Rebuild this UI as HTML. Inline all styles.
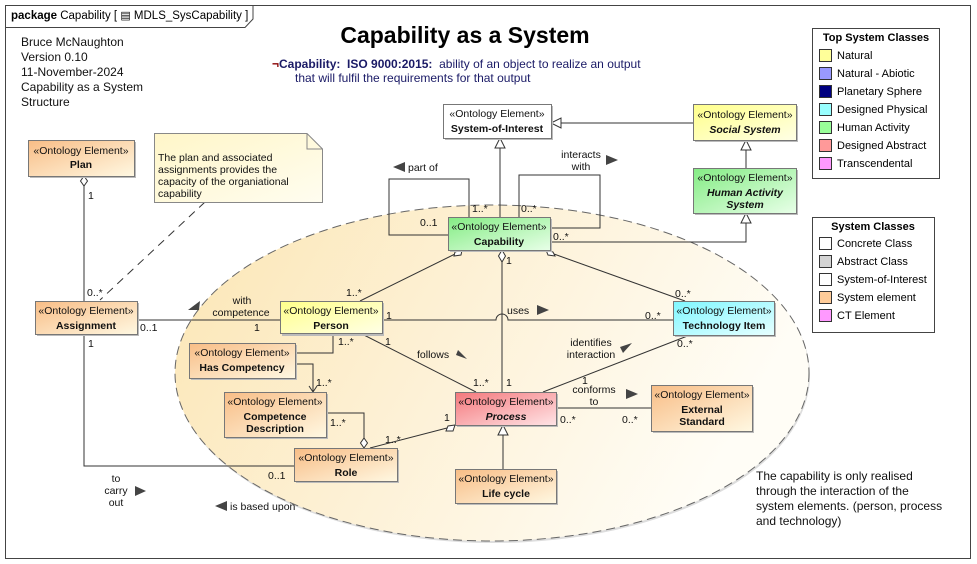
<!DOCTYPE html>
<html><head><meta charset="utf-8"><style>
html,body{margin:0;padding:0;background:#fff}
svg{display:block;font-family:"Liberation Sans",Arial,sans-serif}
</style></head><body>
<svg width="977" height="564" viewBox="0 0 977 564" xmlns="http://www.w3.org/2000/svg">
<defs>
<linearGradient id="ell" x1="0" y1="0" x2="1" y2="0.3"><stop offset="0" stop-color="#fce6b4"/><stop offset="0.5" stop-color="#fdf1d6"/><stop offset="1" stop-color="#fffdf6"/></linearGradient>
<linearGradient id="or" x1="0" y1="0" x2="1" y2="1"><stop offset="0" stop-color="#f8bd86"/><stop offset="1" stop-color="#fff8e2"/></linearGradient>
<linearGradient id="ye" x1="0" y1="0" x2="1" y2="1"><stop offset="0" stop-color="#ffff8a"/><stop offset="1" stop-color="#ffffe6"/></linearGradient>
<linearGradient id="gr" x1="0" y1="0" x2="1" y2="1"><stop offset="0" stop-color="#84ec84"/><stop offset="1" stop-color="#e8ffe8"/></linearGradient>
<linearGradient id="cy" x1="0" y1="0" x2="1" y2="1"><stop offset="0" stop-color="#7ff7ff"/><stop offset="1" stop-color="#e8ffff"/></linearGradient>
<linearGradient id="rd" x1="0" y1="0" x2="1" y2="1"><stop offset="0" stop-color="#f4787c"/><stop offset="1" stop-color="#ffe4e6"/></linearGradient>
<linearGradient id="nt" x1="0" y1="0" x2="1" y2="1"><stop offset="0" stop-color="#fff6c8"/><stop offset="1" stop-color="#fffdf0"/></linearGradient>
</defs>
<rect x="5.5" y="5.5" width="965" height="553" fill="#fff" stroke="#444"/>
<path d="M5.5 27.5 H245 L253 19 V5.5" fill="none" stroke="#444"/>
<text x="11" y="19" font-size="11.5"><tspan font-weight="bold">package</tspan>  Capability [ <tspan font-size="11">▤</tspan> MDLS_SysCapability ]</text>

<g font-size="12" fill="#111">
<text x="21" y="46">Bruce McNaughton</text>
<text x="21" y="61">Version 0.10</text>
<text x="21" y="76">11-November-2024</text>
<text x="21" y="91">Capability as a System</text>
<text x="21" y="106">Structure</text>
</g>
<text x="465" y="43" font-size="23" font-weight="bold" text-anchor="middle">Capability as a System</text>
<text x="272" y="68" font-size="12" fill="#1a1a66"><tspan fill="#800" font-weight="bold">¬</tspan><tspan font-weight="bold">Capability:&#160; ISO 9000:2015:</tspan>&#160; ability of an object to realize an output</text>
<text x="295" y="82" font-size="12" fill="#1a1a66">that will fulfil the requirements for that output</text>

<ellipse cx="493" cy="375" rx="317" ry="168" fill="#bbb" opacity="0.5"/>
<ellipse cx="492" cy="373" rx="317" ry="168" fill="url(#ell)" stroke="#666" stroke-dasharray="9,5"/>

<g font-size="11">
<rect x="812.5" y="28.5" width="127" height="150" fill="#fff" stroke="#444"/>
<text x="876" y="41" font-weight="bold" text-anchor="middle">Top System Classes</text>
<rect x="819.5" y="49.5" width="12" height="12" fill="#ffff99" stroke="#333"/><text x="837" y="59">Natural</text>
<rect x="819.5" y="67.5" width="12" height="12" fill="#9999ff" stroke="#333"/><text x="837" y="77">Natural - Abiotic</text>
<rect x="819.5" y="85.5" width="12" height="12" fill="#000080" stroke="#333"/><text x="837" y="95">Planetary Sphere</text>
<rect x="819.5" y="103.5" width="12" height="12" fill="#99ffff" stroke="#333"/><text x="837" y="113">Designed Physical</text>
<rect x="819.5" y="121.5" width="12" height="12" fill="#99ff99" stroke="#333"/><text x="837" y="131">Human Activity</text>
<rect x="819.5" y="139.5" width="12" height="12" fill="#ff9999" stroke="#333"/><text x="837" y="149">Designed Abstract</text>
<rect x="819.5" y="157.5" width="12" height="12" fill="#ff99ff" stroke="#333"/><text x="837" y="167">Transcendental</text>
<rect x="812.5" y="217.5" width="122" height="115" fill="#fff" stroke="#444"/>
<text x="873" y="230" font-weight="bold" text-anchor="middle">System Classes</text>
<rect x="819.5" y="237.5" width="12" height="12" fill="#fff" stroke="#333"/><text x="837" y="247">Concrete Class</text>
<rect x="819.5" y="255.5" width="12" height="12" fill="#d4d4d4" stroke="#333"/><text x="837" y="265">Abstract Class</text>
<rect x="819.5" y="273.5" width="12" height="12" fill="#fff" stroke="#333"/><text x="837" y="283">System-of-Interest</text>
<rect x="819.5" y="291.5" width="12" height="12" fill="#ffcc99" stroke="#333"/><text x="837" y="301">System element</text>
<rect x="819.5" y="309.5" width="12" height="12" fill="#ff99ff" stroke="#333"/><text x="837" y="319">CT Element</text>
</g>

<g stroke="#333" fill="none" stroke-width="1">
<line x1="84" y1="186" x2="84" y2="301"/>
<line x1="205" y1="202" x2="100" y2="300" stroke-dasharray="8,6"/>
<line x1="137" y1="320" x2="280" y2="320"/>
<path d="M84 334 V466 H294"/>
<line x1="360" y1="301" x2="455" y2="254"/>
<path d="M333 333 V353 H295"/>
<path d="M289 349 L295 353 L289 357"/>
<path d="M295 364 H313 V392"/>
<path d="M309 386 L313 392 L317 386"/>
<path d="M326 413 H364 V438"/>
<line x1="370" y1="448" x2="447" y2="428"/>
<line x1="360" y1="333" x2="476" y2="392"/>
<path d="M382 320 H496 A6 6 0 0 1 508 320 H673"/>
<line x1="502" y1="262" x2="502" y2="392"/>
<line x1="554" y1="254" x2="685" y2="301"/>
<line x1="690" y1="335" x2="543" y2="392"/>
<line x1="556" y1="408" x2="651" y2="408"/>
<line x1="503" y1="469" x2="503" y2="435"/>
<line x1="500" y1="217" x2="500" y2="148"/>
<line x1="693" y1="123" x2="561" y2="123"/>
<line x1="746" y1="168" x2="746" y2="150"/>
<path d="M550 242 H746 V223"/>
<path d="M448 235 H389 V179 H469 V217"/>
<path d="M519 217 V175 H600 V228 H550"/>
</g>
<g stroke="#333" fill="#fff">
<path d="M84 176 L87.5 181 L84 186 L80.5 181 Z"/>
<path d="M364 448 L367.5 443 L364 438 L360.5 443 Z"/>
<path d="M455 425 L453 431 L446 431 L448 426 Z"/>
<path d="M462 250 L461 255 L454 256 L455 252 Z"/>
<path d="M502 250 L505.5 256 L502 262 L498.5 256 Z"/>
<path d="M546 250 L553 252 L555 256 L548 255 Z"/>
<path d="M503 425 L508 435 L498 435 Z"/>
<path d="M500 138 L505 148 L495 148 Z"/>
<path d="M551 123 L561 118 L561 128 Z"/>
<path d="M746 140 L751 150 L741 150 Z"/>
<path d="M746 213 L751 223 L741 223 Z"/>
</g>
<g fill="#444">
<path d="M188 310 L200 301 L199 310 Z"/>
<path d="M135 486 L146 491 L135 496 Z"/>
<path d="M227 501 L215 506 L227 511 Z"/>
<path d="M405 162 L393 167 L405 172 Z"/>
<path d="M606 155 L618 160 L606 165 Z"/>
<path d="M537 305 L549 310 L537 315 Z"/>
<path d="M456 355 L467 359 L458 350 Z"/>
<path d="M620 347 L632 343 L623 353 Z"/>
<path d="M626 389 L638 394 L626 399 Z"/>
</g>

<g font-size="10.5" fill="#111">
<text x="88" y="199">1</text>
<text x="87" y="296">0..*</text>
<text x="140" y="331">0..1</text>
<text x="254" y="331">1</text>
<text x="242" y="304" text-anchor="middle">with</text>
<text x="241" y="316" text-anchor="middle">competence</text>
<text x="88" y="347">1</text>
<text x="268" y="479">0..1</text>
<text x="116" y="482" text-anchor="middle">to</text>
<text x="116" y="494" text-anchor="middle">carry</text>
<text x="116" y="506" text-anchor="middle">out</text>
<text x="230" y="510">is based upon</text>
<text x="346" y="296">1..*</text>
<text x="338" y="345">1..*</text>
<text x="316" y="386">1..*</text>
<text x="330" y="426">1..*</text>
<text x="385" y="443">1..*</text>
<text x="444" y="421">1</text>
<text x="386" y="319">1</text>
<text x="385" y="345">1</text>
<text x="417" y="358">follows</text>
<text x="507" y="314">uses</text>
<text x="645" y="319">0..*</text>
<text x="506" y="264">1</text>
<text x="506" y="386">1</text>
<text x="473" y="386">1..*</text>
<text x="675" y="297">0..*</text>
<text x="677" y="347">0..*</text>
<text x="591" y="346" text-anchor="middle">identifies</text>
<text x="591" y="358" text-anchor="middle">interaction</text>
<text x="582" y="384">1</text>
<text x="594" y="393" text-anchor="middle">conforms</text>
<text x="594" y="405" text-anchor="middle">to</text>
<text x="560" y="423">0..*</text>
<text x="622" y="423">0..*</text>
<text x="553" y="240">0..*</text>
<text x="420" y="226">0..1</text>
<text x="472" y="212">1..*</text>
<text x="521" y="212">0..*</text>
<text x="408" y="171">part of</text>
<text x="581" y="158" text-anchor="middle">interacts</text>
<text x="581" y="170" text-anchor="middle">with</text>
</g>
<g font-size="12" fill="#111">
<text x="756" y="480">The capability is only realised</text>
<text x="756" y="495">through the interaction of the</text>
<text x="756" y="510">system elements. (person, process</text>
<text x="756" y="525">and technology)</text>
</g>

<path d="M154.5 133.5 H307 L322.5 149 V202.5 H154.5 Z" fill="url(#nt)" stroke="#888"/>
<path d="M307 133.5 V149 H322.5" fill="none" stroke="#888"/>
<g font-size="10.5" fill="#111">
<text x="158" y="161">The plan and associated</text>
<text x="158" y="173">assignments provides the</text>
<text x="158" y="185">capacity of the organiational</text>
<text x="158" y="197">capability</text>
</g>

<g font-size="10.5" fill="#111" text-anchor="middle">
<g stroke="#777">
<rect x="30" y="142" width="106" height="36" fill="#bbb" stroke="none"/>
<rect x="37" y="303" width="102" height="33" fill="#bbb" stroke="none"/>
<rect x="282" y="303" width="102" height="33" fill="#bbb" stroke="none"/>
<rect x="191" y="345" width="106" height="35" fill="#bbb" stroke="none"/>
<rect x="226" y="394" width="102" height="45" fill="#bbb" stroke="none"/>
<rect x="296" y="450" width="103" height="33" fill="#bbb" stroke="none"/>
<rect x="457" y="394" width="101" height="33" fill="#bbb" stroke="none"/>
<rect x="457" y="471" width="101" height="34" fill="#bbb" stroke="none"/>
<rect x="653" y="387" width="101" height="46" fill="#bbb" stroke="none"/>
<rect x="675" y="303" width="101" height="34" fill="#bbb" stroke="none"/>
<rect x="450" y="219" width="102" height="33" fill="#bbb" stroke="none"/>
<rect x="445" y="106" width="108" height="34" fill="#bbb" stroke="none"/>
<rect x="695" y="106" width="103" height="36" fill="#bbb" stroke="none"/>
<rect x="695" y="170" width="103" height="45" fill="#bbb" stroke="none"/>
<rect x="28.5" y="140.5" width="106" height="36" fill="url(#or)"/>
<rect x="35.5" y="301.5" width="102" height="33" fill="url(#or)"/>
<rect x="280.5" y="301.5" width="102" height="32" fill="url(#ye)"/>
<rect x="189.5" y="343.5" width="106" height="35" fill="url(#or)"/>
<rect x="224.5" y="392.5" width="102" height="45" fill="url(#or)"/>
<rect x="294.5" y="448.5" width="103" height="33" fill="url(#or)"/>
<rect x="455.5" y="392.5" width="101" height="33" fill="url(#rd)"/>
<rect x="455.5" y="469.5" width="101" height="34" fill="url(#or)"/>
<rect x="651.5" y="385.5" width="101" height="46" fill="url(#or)"/>
<rect x="673.5" y="301.5" width="101" height="34" fill="url(#cy)"/>
<rect x="448.5" y="217.5" width="102" height="33" fill="url(#gr)"/>
<rect x="443.5" y="104.5" width="108" height="34" fill="#fff"/>
<rect x="693.5" y="104.5" width="103" height="36" fill="url(#ye)"/>
<rect x="693.5" y="168.5" width="103" height="45" fill="url(#gr)"/>
</g>
<text x="81" y="154">«Ontology Element»</text><text x="81" y="168" font-weight="bold">Plan</text>
<text x="86" y="314">«Ontology Element»</text><text x="86" y="329" font-weight="bold">Assignment</text>
<text x="331" y="314">«Ontology Element»</text><text x="331" y="329" font-weight="bold">Person</text>
<text x="242" y="356">«Ontology Element»</text><text x="242" y="371" font-weight="bold">Has Competency</text>
<text x="275" y="405">«Ontology Element»</text><text x="275" y="420" font-weight="bold">Competence</text><text x="275" y="432" font-weight="bold">Description</text>
<text x="346" y="461">«Ontology Element»</text><text x="346" y="476" font-weight="bold">Role</text>
<text x="506" y="405">«Ontology Element»</text><text x="506" y="420" font-weight="bold" font-style="italic">Process</text>
<text x="506" y="482">«Ontology Element»</text><text x="506" y="497" font-weight="bold">Life cycle</text>
<text x="702" y="398">«Ontology Element»</text><text x="702" y="413" font-weight="bold">External</text><text x="702" y="425" font-weight="bold">Standard</text>
<text x="724" y="314">«Ontology Element»</text><text x="724" y="329" font-weight="bold">Technology Item</text>
<text x="499" y="230">«Ontology Element»</text><text x="499" y="245" font-weight="bold">Capability</text>
<text x="497" y="117">«Ontology Element»</text><text x="497" y="132" font-weight="bold">System-of-Interest</text>
<text x="745" y="118">«Ontology Element»</text><text x="745" y="133" font-weight="bold" font-style="italic">Social System</text>
<text x="745" y="181">«Ontology Element»</text><text x="745" y="196" font-weight="bold" font-style="italic">Human Activity</text><text x="745" y="208" font-weight="bold" font-style="italic">System</text>
</g>
</svg>
</body></html>
